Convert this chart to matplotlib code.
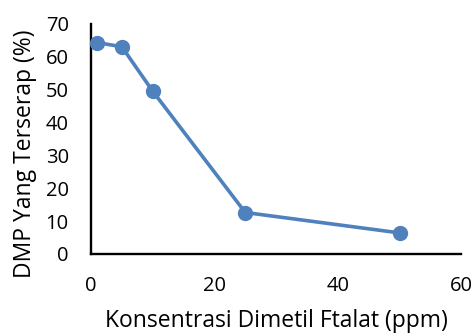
import matplotlib
matplotlib.use('Agg')
import matplotlib.pyplot as plt

konsentrasi = [1, 5, 10, 25, 50]
terserap = [64.3, 63.0, 49.5, 12.6, 6.4]

x_ticks = [0, 20, 40, 60]
y_ticks = [0, 10, 20, 30, 40, 50, 60, 70]

plt.rcParams['font.family'] = ['Open Sans', 'DejaVu Sans']

fig = plt.figure(figsize=(4.74, 3.35), dpi=100)
ax = fig.add_axes([0.192, 0.242, 0.781, 0.687])

ax.plot(konsentrasi, terserap, color='#4F81BD', linewidth=2.6,
        marker='o', markersize=10, clip_on=False, zorder=3)

ax.set_xlim(0, 60)
ax.set_ylim(0, 70)
ax.set_xticks(x_ticks)
ax.set_yticks(y_ticks)
ax.tick_params(length=0, labelsize=14.5, pad=16)

for s in ['top', 'right']:
    ax.spines[s].set_visible(False)
for s in ['left', 'bottom']:
    ax.spines[s].set_linewidth(1.7)
    ax.spines[s].set_color('black')

ax.set_xlabel('Konsentrasi Dimetil Ftalat (ppm)', fontsize=16.5, va='baseline')
ax.xaxis.set_label_coords(0.5, -0.318)
ax.set_ylabel('DMP Yang Terserap (%)', fontsize=16.5, va='baseline', ha='center')
ax.yaxis.set_label_coords(-0.163, 0.435)

fig.savefig('out.png', dpi=100)
